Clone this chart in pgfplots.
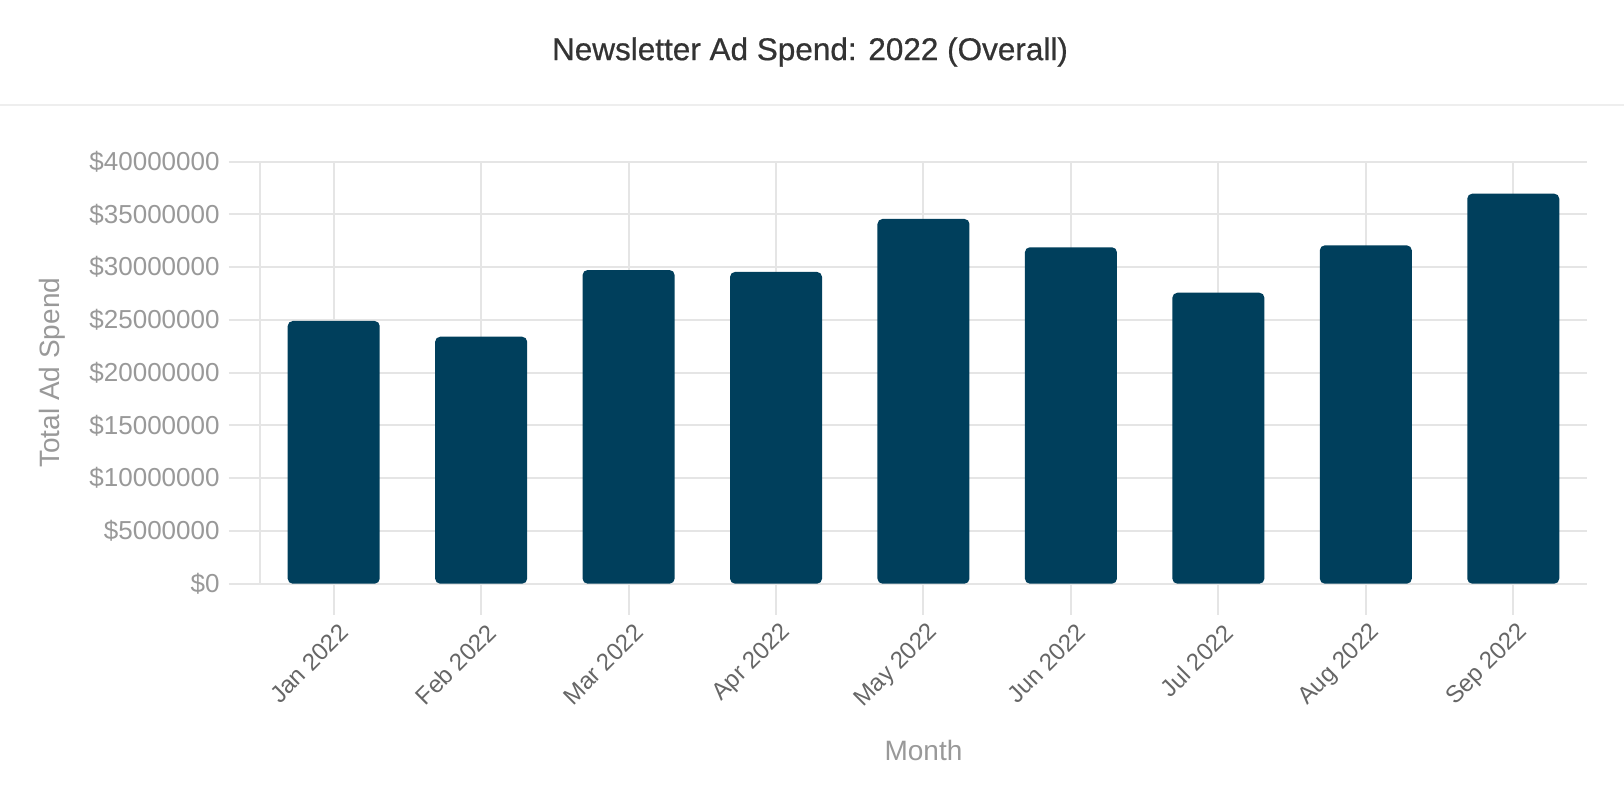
\documentclass[border=0pt]{standalone}
\usepackage{fontspec}
\setmainfont{Liberation Sans}
\newfontfamily\titlefont[FakeBold=0.6]{Liberation Sans}
\usepackage{pgfplots}
\pgfplotsset{compat=1.18}
\definecolor{barc}{RGB}{0,63,92}
\definecolor{gridc}{RGB}{229,229,229}
\definecolor{sepc}{RGB}{238,238,238}
\definecolor{ytc}{RGB}{153,153,153}
\definecolor{xtc}{RGB}{102,102,102}
\definecolor{titc}{RGB}{51,51,51}
\begin{document}
\begin{tikzpicture}
\path[use as bounding box] (-130pt,-109.15pt) rectangle (682pt,291.85pt);
\fill[white] (-130pt,-109.15pt) rectangle (682pt,291.85pt);
\draw[sepc, line width=1pt] (-130pt,239.55pt) -- (682pt,239.55pt);
\node[text=titc, font=\titlefont\fontsize{15.75}{19}\selectfont] at (275pt,265.85pt) {Newsletter Ad Spend: 2022 (Overall)};
\begin{axis}[
  at={(0,0)}, anchor=south west, scale only axis,
  width=663.5pt, height=211pt,
  xmin=-0.5, xmax=8.5, ymin=0, ymax=40000000,
  xtick={0,...,8},
  xticklabels={Jan 2022,Feb 2022,Mar 2022,Apr 2022,May 2022,Jun 2022,Jul 2022,Aug 2022,Sep 2022},
  ytick={0,5000000,10000000,15000000,20000000,25000000,30000000,35000000,40000000},
  yticklabels={\$0,\$5000000,\$10000000,\$15000000,\$20000000,\$25000000,\$30000000,\$35000000,\$40000000},
  scaled y ticks=false,
  axis x line*=bottom, axis y line*=left,
  axis line style={-, gridc, line width=1pt},
  tick pos=left,
  grid=major, major grid style={gridc, line width=1pt},
  tick align=outside, major tick length=15.5pt, tick style={gridc, line width=1pt},
  yticklabel style={text=ytc, font=\fontsize{13}{15}\selectfont, anchor=east, inner sep=0pt, xshift=-4.5pt},
  xticklabel style={text=xtc, font=\fontsize{12}{14}\selectfont, inner sep=0pt, anchor=east, xshift=5.3pt, yshift=-6.8pt, rotate=45},
  xlabel={Month}, ylabel={Total Ad Spend},
  every axis x label/.style={at={(axis description cs:0.5,0)}, yshift=-83.15pt, anchor=center, text=ytc, font=\fontsize{14}{16}\selectfont},
  every axis y label/.style={at={(axis description cs:0,0.5)}, xshift=-104pt, anchor=center, rotate=90, text=ytc, font=\fontsize{14}{16}\selectfont},
]
\addplot[ybar, bar width=0.624, fill=barc, draw=none, rounded corners=2.5pt] coordinates {
  (0,24900000) (1,23410000) (2,29730000) (3,29550000) (4,34570000)
  (5,31890000) (6,27580000) (7,32070000) (8,36970000)
};
\end{axis}
\end{tikzpicture}
\end{document}
